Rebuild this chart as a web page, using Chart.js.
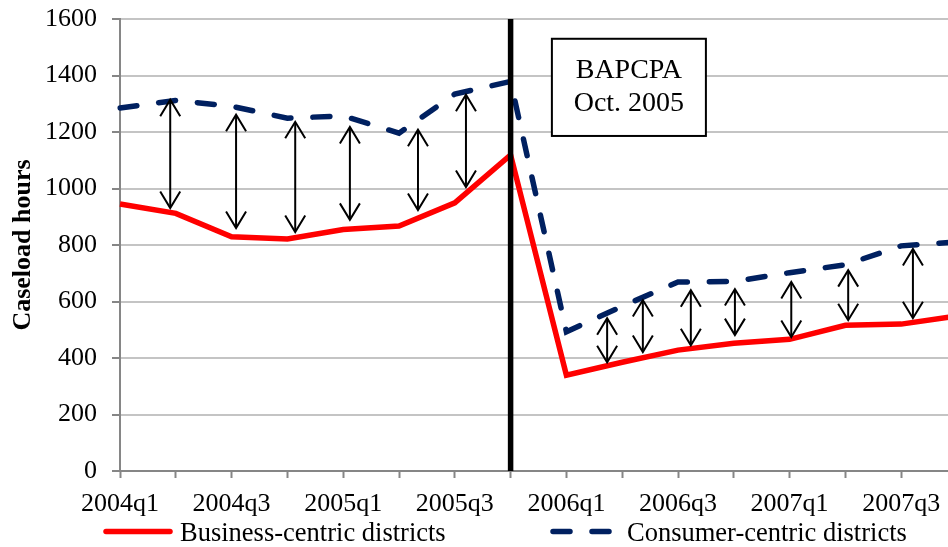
<!DOCTYPE html>
<html><head><meta charset="utf-8">
<script src="https://cdn.jsdelivr.net/npm/chart.js@4"></script>
<style>
html,body{margin:0;padding:0;background:#fff;overflow:hidden;}
#wrap{width:948px;height:547px;overflow:hidden;position:relative;background:#fff;}
canvas{display:block;}
</style></head><body>
<div id="wrap"><canvas id="c" width="960" height="547"></canvas></div>
<script>
// ---- data ----
const categories = ['2004q1','2004q2','2004q3','2004q4','2005q1','2005q2','2005q3','2005q4',
                    '2006q1','2006q2','2006q3','2006q4','2007q1','2007q2','2007q3','2007q4'];
const businessCentric = [945, 912, 829, 821, 855, 867, 949, 1119, 339, 385, 428, 452, 466, 516, 520, 549];
const consumerCentric = [1285, 1312, 1291, 1249, 1257, 1196, 1334, 1379, 493, 583, 669, 671, 702, 730, 797, 811];
const seriesNames = ['Business-centric districts', 'Consumer-centric districts'];
const yMin = 0, yMax = 1600, yStep = 200;
const yTitle = 'Caseload hours';
// event marker (BAPCPA, Oct. 2005) at category index 7 (2005q4)
const eventIndex = 7;
const noteLines = ['BAPCPA', 'Oct. 2005'];
const noteX = [7.74, 10.50];      // category-index range of the note box
const noteY = [1530, 1186];       // value range of the note box
// double-headed gap arrows (category index, top value, bottom value)
const arrowPos    = [0.90, 2.08, 3.14, 4.12, 5.34, 6.20, 8.73, 9.37, 10.23, 11.02, 12.03, 13.05, 14.21];
const arrowTop    = [1314, 1261, 1236, 1218, 1208, 1332, 541, 605, 640, 644, 669, 711, 786];
const arrowBottom = [931, 860, 846, 889, 924, 1005, 385, 421, 445, 481, 474, 534, 541];

const SERIF = '"Liberation Serif", "Times New Roman", serif';
const AXIS_GRAY = '#868686';
const GRID_GRAY = '#c4c4c4';

const overlay = {
  id: 'overlay',
  afterDatasetsDraw(chart) {
    const {ctx, scales: {x, y}} = chart;
    ctx.save();
    // event vertical line
    const ex = x.getPixelForValue(eventIndex);
    ctx.strokeStyle = '#000';
    ctx.lineWidth = 5.5;
    ctx.beginPath();
    ctx.moveTo(ex, y.getPixelForValue(yMax));
    ctx.lineTo(ex, y.getPixelForValue(yMin));
    ctx.stroke();
    // arrows
    ctx.lineWidth = 2;
    ctx.lineCap = 'butt';
    ctx.lineJoin = 'miter';
    arrowPos.forEach((p, i) => {
      const ax = x.getPixelForValue(p);
      const t = y.getPixelForValue(arrowTop[i]);
      const b = y.getPixelForValue(arrowBottom[i]);
      ctx.beginPath(); ctx.moveTo(ax, t + 1); ctx.lineTo(ax, b - 1); ctx.stroke();
      ctx.beginPath(); ctx.moveTo(ax - 10, t + 16.5); ctx.lineTo(ax, t); ctx.lineTo(ax + 10, t + 16.5); ctx.stroke();
      ctx.beginPath(); ctx.moveTo(ax - 10, b - 16.5); ctx.lineTo(ax, b); ctx.lineTo(ax + 10, b - 16.5); ctx.stroke();
    });
    // note box
    const bx0 = x.getPixelForValue(noteX[0]), bx1 = x.getPixelForValue(noteX[1]);
    const by0 = y.getPixelForValue(noteY[0]), by1 = y.getPixelForValue(noteY[1]);
    ctx.fillStyle = '#fff';
    ctx.fillRect(bx0, by0, bx1 - bx0, by1 - by0);
    ctx.lineWidth = 2;
    ctx.strokeStyle = '#000';
    ctx.strokeRect(bx0, by0, bx1 - bx0, by1 - by0);
    ctx.fillStyle = '#000';
    ctx.font = '28px ' + SERIF;
    ctx.textAlign = 'center';
    ctx.textBaseline = 'alphabetic';
    const cx = (bx0 + bx1) / 2;
    ctx.fillText(noteLines[0], cx, by0 + 39);
    ctx.fillText(noteLines[1], cx, by0 + 72.5);
    ctx.restore();
  },
  afterDraw(chart) {
    const {ctx, scales: {x, y}} = chart;
    ctx.save();
    // x-axis category labels (every second quarter)
    ctx.fillStyle = '#000';
    ctx.font = '26px ' + SERIF;
    ctx.textAlign = 'center';
    ctx.textBaseline = 'alphabetic';
    const labelBase = y.getPixelForValue(yMin) + 40;
    categories.forEach((c, i) => {
      if (i % 2 === 0) ctx.fillText(c, x.getPixelForValue(i), labelBase);
    });
    // legend
    const items = [
      {x0: 103, x1: 173, tx: 180},
      {x0: 550, x1: 620, tx: 627}
    ];
    chart.data.datasets.forEach((ds, i) => {
      const it = items[i];
      const ly = 531.5;
      ctx.strokeStyle = ds.borderColor;
      ctx.lineWidth = ds.borderWidth;
      ctx.lineCap = 'round';
      ctx.setLineDash(ds.borderDash || []);
      ctx.beginPath();
      ctx.moveTo(it.x0 + 3, ly);
      ctx.lineTo(it.x1 - 3, ly);
      ctx.stroke();
      ctx.setLineDash([]);
      ctx.fillStyle = '#000';
      ctx.font = '26.5px ' + SERIF;
      ctx.textAlign = 'left';
      ctx.textBaseline = 'alphabetic';
      ctx.fillText(ds.label, it.tx, 541);
    });
    ctx.restore();
  }
};

new Chart(document.getElementById('c'), {
  type: 'line',
  data: {
    labels: categories,
    datasets: [
      {
        label: seriesNames[0],
        data: businessCentric,
        borderColor: '#ff0000',
        backgroundColor: '#ff0000',
        borderWidth: 5.5,
        pointRadius: 0,
        tension: 0,
        borderJoinStyle: 'miter',
        borderCapStyle: 'butt',
        fill: false
      },
      {
        label: seriesNames[1],
        data: consumerCentric,
        borderColor: '#002060',
        backgroundColor: '#002060',
        borderWidth: 5.5,
        borderDash: [17, 22],
        borderCapStyle: 'round',
        pointRadius: 0,
        tension: 0,
        fill: false
      }
    ]
  },
  options: {
    responsive: false,
    animation: false,
    devicePixelRatio: 1,
    layout: {padding: {left: 0, right: 3, top: 19, bottom: 36}},
    plugins: {
      legend: {display: false},
      tooltip: {enabled: false},
      title: {display: false}
    },
    scales: {
      x: {
        type: 'category',
        offset: false,
        grid: {drawOnChartArea: false, drawTicks: true, tickLength: 7, tickColor: AXIS_GRAY, tickWidth: 2},
        border: {display: true, color: AXIS_GRAY, width: 2},
        ticks: {display: false, autoSkip: false, maxRotation: 0, minRotation: 0},
        afterFit(scale) { scale.height = 40; scale.paddingLeft = 0; scale.paddingRight = 0; }
      },
      y: {
        min: yMin, max: yMax,
        grid: {
          color: (c) => (c.tick && c.tick.value === 0 ? AXIS_GRAY : GRID_GRAY),
          lineWidth: 2,
          drawTicks: true, tickLength: 8, tickColor: AXIS_GRAY, tickWidth: 2
        },
        border: {display: true, color: AXIS_GRAY, width: 2},
        ticks: {
          stepSize: yStep, padding: 15, color: '#000',
          font: {family: SERIF, size: 26},
          callback: (v) => String(v)
        },
        title: {
          display: true, text: yTitle, color: '#000',
          font: {family: SERIF, size: 26, weight: 'bold'},
          padding: {top: 8, bottom: 0}
        },
        afterFit(scale) { scale.width = 120; scale.paddingTop = 0; scale.paddingBottom = 0; }
      }
    }
  },
  plugins: [overlay]
});
</script>
</body></html>
